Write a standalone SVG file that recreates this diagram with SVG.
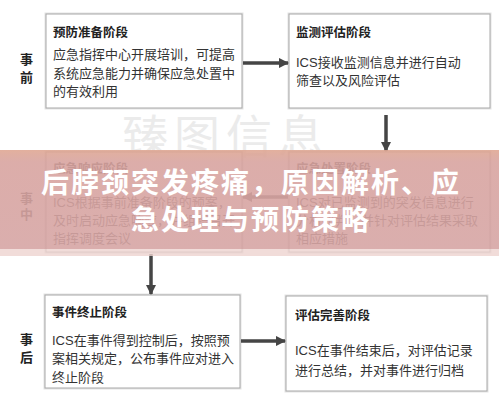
<svg xmlns="http://www.w3.org/2000/svg" width="499" height="401" viewBox="0 0 499 401">
<defs>
<style>
.box{fill:#fff;stroke:#a8a8a8;stroke-width:1}
.halo{fill:none;stroke:#e4e4e4;stroke-width:3}
.t{font-family:"Liberation Sans","Noto Sans CJK SC",sans-serif;font-size:13px;fill:#333}
.h{font-family:"Noto Sans CJK SC",sans-serif;font-size:12.5px;font-weight:bold;fill:#222}
.lab{font-family:"Noto Sans CJK SC",sans-serif;font-size:13px;font-weight:bold;fill:#222}
.ar{stroke:#454545;stroke-width:3.5;fill:none}
.big{font-family:"Noto Sans CJK SC",sans-serif;font-size:28px;font-weight:bold;fill:#fff;letter-spacing:2px}
</style>
<marker id="ah" viewBox="0 0 10 10" refX="9" refY="5" markerWidth="3" markerHeight="3" orient="auto" markerUnits="strokeWidth">
<path d="M0,0 L10,5 L0,10 z" fill="#454545"/>
</marker>
<linearGradient id="band" x1="0" y1="0" x2="0" y2="1">
<stop offset="0" stop-color="#dfa793"/>
<stop offset="0.12" stop-color="#d8a4a0"/>
<stop offset="1" stop-color="#d6a5a4"/>
</linearGradient>
</defs>
<rect width="499" height="401" fill="#fff"/>

<g id="watermark" font-family="Noto Sans CJK SC,sans-serif" font-size="46" fill="#ebebeb" letter-spacing="6">
<text x="122" y="153">臻图信息</text>
</g>

<g id="labels">
<text class="lab" x="20" y="64">事</text><text class="lab" x="20" y="82">前</text>
<text class="lab" x="20" y="203">事</text><text class="lab" x="20" y="219">中</text>
<text class="lab" x="20" y="344">事</text><text class="lab" x="20" y="362">后</text>
</g>

<g id="n1">
<rect class="halo" x="46" y="14" width="196" height="94"/>
<rect class="box" x="46" y="14" width="196" height="94"/>
<text class="h" x="53" y="37">预防准备阶段</text>
<text class="t" x="53" y="59">应急指挥中心开展培训，可提高</text>
<text class="t" x="53" y="78">系统应急能力并确保应急处置中</text>
<text class="t" x="53" y="96">的有效利用</text>
</g>

<g id="n2">
<rect class="halo" x="289" y="14" width="201" height="94"/>
<rect class="box" x="289" y="14" width="201" height="94"/>
<text class="h" x="296" y="37">监测评估阶段</text>
<text class="t" x="296" y="67">ICS接收监测信息并进行自动</text>
<text class="t" x="296" y="85">筛查以及风险评估</text>
</g>

<g id="n3">
<rect class="halo" x="46" y="152" width="196" height="100"/>
<rect class="box" x="46" y="152" width="196" height="100"/>
<text class="h" x="53" y="173">应急响应阶段</text>
<text class="t" x="53" y="207">ICS根据事前准备阶段的预案，</text>
<text class="t" x="53" y="225">及时启动应急响应，并组织召开</text>
<text class="t" x="53" y="243">指挥调度会议</text>
</g>

<g id="n4">
<rect class="halo" x="289" y="152" width="201" height="100"/>
<rect class="box" x="289" y="152" width="201" height="100"/>
<text class="h" x="296" y="173">应急处置阶段</text>
<text class="t" x="296" y="207">ICS对已监测到的突发信息进行</text>
<text class="t" x="296" y="225">分析研判，并针对评估结果采取</text>
<text class="t" x="296" y="243">相应措施</text>
</g>

<g id="n5">
<rect class="halo" x="45" y="295" width="195" height="93"/>
<rect class="box" x="45" y="295" width="195" height="93"/>
<text class="h" x="52" y="317">事件终止阶段</text>
<text class="t" x="52" y="345">ICS在事件得到控制后，按照预</text>
<text class="t" x="52" y="363">案相关规定，公布事件应对进入</text>
<text class="t" x="52" y="382">终止阶段</text>
</g>

<g id="n6">
<rect class="halo" x="286" y="296" width="201" height="95"/>
<rect class="box" x="286" y="296" width="201" height="95"/>
<text class="h" x="295" y="320">评估完善阶段</text>
<text class="t" x="295" y="355">ICS在事件结束后，对评估记录</text>
<text class="t" x="295" y="375">进行总结，并对事件进行归档</text>
</g>

<g id="connectors">
<line class="ar" x1="243" y1="63" x2="288" y2="63" marker-end="url(#ah)"/>
<line class="ar" x1="386" y1="115" x2="386" y2="151" marker-end="url(#ah)"/>
<line class="ar" x1="288" y1="197" x2="243" y2="197" marker-end="url(#ah)"/>
<line class="ar" x1="151" y1="254" x2="151" y2="294" marker-end="url(#ah)"/>
<line class="ar" x1="241" y1="341" x2="285" y2="341" marker-end="url(#ah)"/>
</g>

<g id="banner">
<rect x="0" y="150" width="499" height="99" fill="url(#band)" opacity="0.9"/>
<rect x="0" y="249" width="499" height="7" fill="#edd3cf" opacity="0.8"/>
<text class="big" x="251" y="193" text-anchor="middle">后脖颈突发疼痛，原因解析、应</text>
<text class="big" x="251" y="230" text-anchor="middle">急处理与预防策略</text>
</g>
</svg>
